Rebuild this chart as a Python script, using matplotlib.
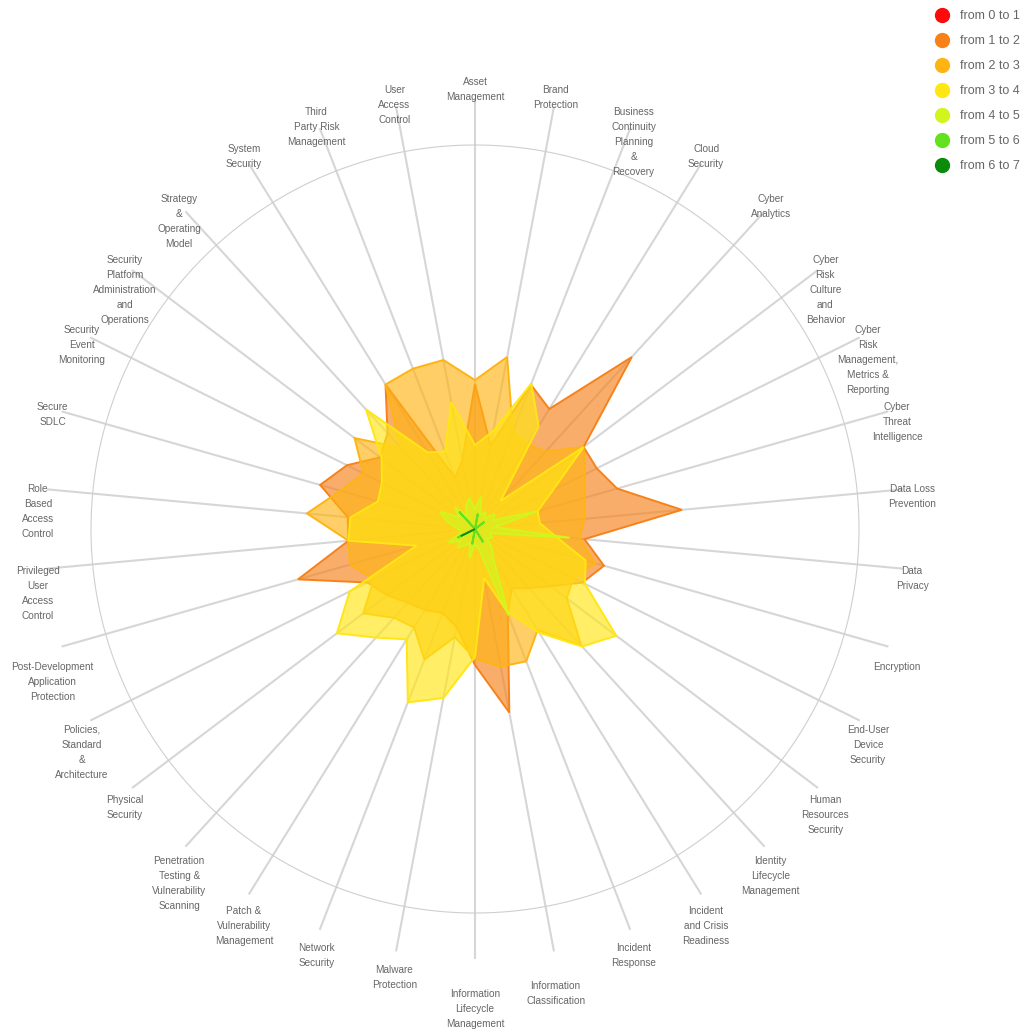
import numpy as np
import matplotlib
matplotlib.use("Agg")
import matplotlib.pyplot as plt
from matplotlib.colors import to_rgba
from matplotlib.lines import Line2D
from matplotlib.transforms import offset_copy

plt.rcParams['font.family'] = ['Liberation Sans', 'DejaVu Sans']

# Capability domains, clockwise from the top
categories = [
    "Asset Management", "Brand Protection", "Business Continuity Planning & Recovery",
    "Cloud Security", "Cyber Analytics", "Cyber Risk Culture and Behavior",
    "Cyber Risk Management, Metrics & Reporting", "Cyber Threat Intelligence",
    "Data Loss Prevention", "Data Privacy", "Encryption", "End-User Device Security",
    "Human Resources Security", "Identity Lifecycle Management",
    "Incident and Crisis Readiness", "Incident Response", "Information Classification",
    "Information Lifecycle Management", "Malware Protection", "Network Security",
    "Patch & Vulnerability Management", "Penetration Testing & Vulnerability Scanning",
    "Physical Security", "Policies, Standard & Architecture",
    "Post-Development Application Protection", "Privileged User Access Control",
    "Role Based Access Control", "Secure SDLC", "Security Event Monitoring",
    "Security Platform Administration and Operations", "Strategy & Operating Model",
    "System Security", "Third Party Risk Management", "User Access Control",
]

# Wrapped axis labels as displayed around the chart
axis_labels = [
    "Asset\nManagement", "Brand\nProtection", "Business\nContinuity\nPlanning\n&\nRecovery",
    "Cloud\nSecurity", "Cyber\nAnalytics", "Cyber\nRisk\nCulture\nand\nBehavior",
    "Cyber\nRisk\nManagement,\nMetrics &\nReporting", "Cyber\nThreat\nIntelligence",
    "Data Loss\nPrevention", "Data\nPrivacy", "Encryption", "End-User\nDevice\nSecurity",
    "Human\nResources\nSecurity", "Identity\nLifecycle\nManagement",
    "Incident\nand Crisis\nReadiness", "Incident\nResponse", "Information\nClassification",
    "Information\nLifecycle\nManagement", "Malware\nProtection", "Network\nSecurity",
    "Patch &\nVulnerability\nManagement", "Penetration\nTesting &\nVulnerability\nScanning",
    "Physical\nSecurity", "Policies,\nStandard\n&\nArchitecture",
    "Post-Development\nApplication\nProtection", "Privileged\nUser\nAccess\nControl",
    "Role\nBased\nAccess\nControl", "Secure\nSDLC", "Security\nEvent\nMonitoring",
    "Security\nPlatform\nAdministration\nand\nOperations", "Strategy\n&\nOperating\nModel",
    "System\nSecurity", "Third\nParty Risk\nManagement", "User\nAccess\nControl",
]

series_names = ["from 0 to 1", "from 1 to 2", "from 2 to 3", "from 3 to 4",
                "from 4 to 5", "from 5 to 6", "from 6 to 7"]
series_colors = ["#FF0A0A", "#F7821B", "#FFB414", "#FFE614",
                 "#D2F51E", "#64E11E", "#0A8C0A"]

# Share of respondents per domain
vals_0_1 = [0, 0, 0, 0, 0, 0, 0, 0, 0, 0, 0, 0, 0, 0, 0, 0, 0,
            0, 0, 0, 0, 0, 0, 0, 0, 0, 0, 0, 0, 0, 0, 0, 0, 0]
vals_1_2 = [37.2, 21.8, 39.7, 36.2, 59.7, 34.9, 34.9, 37.9, 53.3, 28.2, 34.4, 30.8,
            24.4, 20.5, 17.9, 23.3, 47.9, 34.9, 25.6, 23.1, 24.4, 25.6, 28.2, 30.8,
            47.2, 32.6, 32.8, 41.3, 36.7, 30.5, 33.3, 43.6, 14.1, 17.9]
vals_2_3 = [38.2, 44.9, 26.9, 25.6, 26.9, 34.9, 31.5, 29.2, 28.2, 26.9, 32.1, 28.2,
            29.5, 40.5, 30.5, 36.4, 35.9, 33.3, 28.2, 35.9, 29.7, 30.8, 35.9, 29.0,
            33.3, 32.6, 43.3, 35.9, 32.0, 38.7, 28.2, 43.6, 44.1, 44.1]
vals_3_4 = [21.5, 25.6, 40.0, 31.0, 9.7, 34.9, 22.3, 16.7, 16.7, 20.8, 29.5, 31.5,
            45.4, 40.8, 31.3, 22.6, 12.8, 32.8, 44.1, 47.7, 33.3, 37.7, 44.4, 35.9,
            15.6, 32.6, 32.1, 25.9, 26.7, 30.0, 41.5, 23.1, 21.3, 33.1]
vals_4_5 = [5.1, 8.5, 3.8, 5.1, 3.8, 6.4, 5.1, 16.4, 5.1, 24.4, 3.8, 5.1,
            3.8, 6.4, 9.0, 23.8, 5.1, 3.8, 7.7, 3.8, 5.1, 6.4, 5.1, 7.7,
            3.8, 3.8, 5.1, 7.7, 10.0, 5.1, 7.7, 3.8, 6.4, 8.2]
vals_5_6 = [0, 4.0, 0, 0, 0, 3.0, 0, 0, 0, 0, 0, 0, 0, 0, 4.0, 0, 0,
            0, 4.0, 0, 0, 0, 0, 5.0, 0, 0, 0, 0, 0, 0, 6.0, 0, 0, 0]
vals_6_7 = [0, 0, 0, 0, 0, 0, 0, 0, 0, 0, 0, 0, 0, 0, 0, 0, 0,
            0, 0, 0, 0, 0, 0, 4.1, 0, 0, 0, 0, 0, 0, 0, 0, 0, 0]

ring_value = 98.5
axis_extent = 110.3

W, H = 1023, 1032
fig = plt.figure(figsize=(W / 100, H / 100), dpi=100)
cx, cy, r_px = 475, 529, 430
ax = fig.add_axes([(cx - r_px) / W, (H - cy - r_px) / H, 2 * r_px / W, 2 * r_px / H],
                  projection='polar')
ax.set_theta_zero_location('N')
ax.set_theta_direction(-1)
ax.set_ylim(0, axis_extent)
ax.set_axis_off()

n = len(categories)
theta = np.arange(n) * 2 * np.pi / n

# spokes and the single reference ring
for t in theta:
    ax.plot([t, t], [0, axis_extent], color='#d6d6d6', lw=1.5, zorder=1,
            solid_capstyle='butt')
ring = np.linspace(0, 2 * np.pi, 361)
ax.plot(ring, np.full_like(ring, ring_value), color='#cfcfcf', lw=0.8, zorder=1)

series = [vals_0_1, vals_1_2, vals_2_3, vals_3_4, vals_4_5, vals_5_6, vals_6_7]
for i, (col, vals) in enumerate(zip(series_colors, series)):
    v = np.asarray(vals, float)
    tt = np.append(theta, theta[0])
    vv = np.append(v, v[0])
    ax.fill(tt, vv, facecolor=to_rgba(col, 0.65), edgecolor=col, lw=1.4,
            zorder=2 + i, joinstyle='miter')

# category labels just beyond each spoke; a few long bottom labels sit lower
label_drop = {10: 14, 16: 16, 17: 16, 24: 14}
for k, (t, lab) in enumerate(zip(theta, axis_labels)):
    s, c = np.sin(t), np.cos(t)
    dx = 9 * s
    dy = 4 + 18 * c - label_drop.get(k, 0)
    tr = offset_copy(ax.transData, fig=fig, x=dx, y=dy, units='dots')
    ax.text(t, axis_extent, lab, transform=tr, ha='center', va='top',
            fontsize=7.2, color='#666666', linespacing=1.62,
            multialignment='center')

handles = [Line2D([], [], marker='o', linestyle='none', markersize=10,
                  markerfacecolor=c, markeredgecolor=c) for c in series_colors]
fig.legend(handles, series_names, loc='upper left',
           bbox_to_anchor=(934 / W, 1 - 10 / H), frameon=False, fontsize=9,
           labelcolor='#666666', handlelength=1.2, handletextpad=0.9,
           labelspacing=1.04, borderpad=0, borderaxespad=0)

fig.savefig("out.png", dpi=100)
